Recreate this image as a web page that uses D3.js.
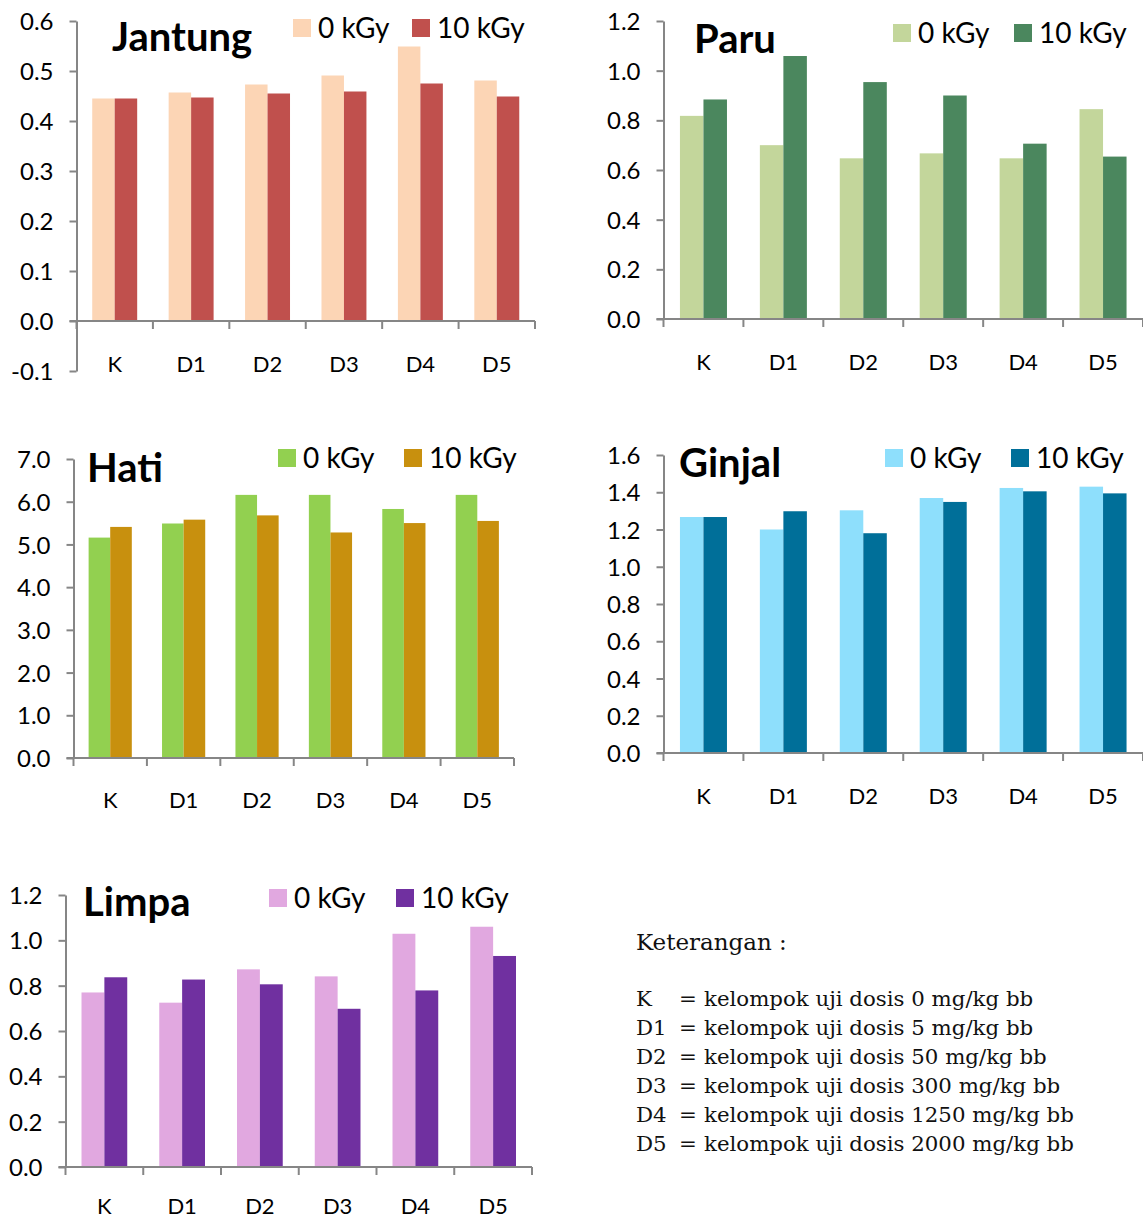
<!DOCTYPE html>
<html>
<head>
<meta charset="utf-8">
<script src="https://cdn.jsdelivr.net/npm/d3@7"></script>
<style>
  html, body { margin: 0; padding: 0; background: #fff; }
  svg { display: block; }
  .tick text { font-family: Lato, "Open Sans", sans-serif; }
</style>
</head>
<body>
<svg id="chart" width="1143" height="1219"></svg>
<script>
// Dose groups shared by all organ panels
const categories = ["K", "D1", "D2", "D3", "D4", "D5"];
const seriesNames = ["0 kGy", "10 kGy"];

// Organ index values per dose group, non-irradiated (0 kGy) vs irradiated (10 kGy)
const jantung0  = [0.445, 0.457, 0.473, 0.491, 0.549, 0.481];
const jantung10 = [0.445, 0.447, 0.455, 0.459, 0.475, 0.449];

const paru0  = [0.818, 0.700, 0.647, 0.667, 0.647, 0.845];
const paru10 = [0.884, 1.059, 0.954, 0.900, 0.706, 0.654];

const hati0  = [5.16, 5.49, 6.16, 6.16, 5.83, 6.16];
const hati10 = [5.41, 5.58, 5.68, 5.28, 5.50, 5.55];

const ginjal0  = [1.267, 1.200, 1.303, 1.369, 1.423, 1.430];
const ginjal10 = [1.267, 1.298, 1.180, 1.348, 1.405, 1.394];

const limpa0  = [0.770, 0.725, 0.872, 0.841, 1.029, 1.060];
const limpa10 = [0.837, 0.827, 0.806, 0.698, 0.779, 0.931];

// Y-axis tick values per panel
const jantungTicks = [-0.1, 0, 0.1, 0.2, 0.3, 0.4, 0.5, 0.6];
const paruTicks    = [0, 0.2, 0.4, 0.6, 0.8, 1.0, 1.2];
const hatiTicks    = [0, 1, 2, 3, 4, 5, 6, 7];
const ginjalTicks  = [0, 0.2, 0.4, 0.6, 0.8, 1.0, 1.2, 1.4, 1.6];
const limpaTicks   = [0, 0.2, 0.4, 0.6, 0.8, 1.0, 1.2];

// Key to the dose-group abbreviations
const keyTitle = "Keterangan :";
const keyLabels = ["K", "D1", "D2", "D3", "D4", "D5"];
const keyTexts = [
  "kelompok uji dosis 0 mg/kg bb",
  "kelompok uji dosis 5 mg/kg bb",
  "kelompok uji dosis 50 mg/kg bb",
  "kelompok uji dosis 300 mg/kg bb",
  "kelompok uji dosis 1250 mg/kg bb",
  "kelompok uji dosis 2000 mg/kg bb"
];

const svg = d3.select("#chart");
const AXIS = "#868686";
const SANS = "Lato, 'Open Sans', sans-serif";
// one decimal, plain hyphen for negatives
const fmt = d3.formatLocale({ decimal: ".", thousands: ",", grouping: [3], currency: ["", ""], minus: "-" }).format(".1f");

const panels = [
  { title: "Jantung", s0: jantung0, s1: jantung10, ticks: jantungTicks, domain: [-0.1, 0.6],
    colors: ["#FCD5B5", "#C0504D"],
    x0: 76.5, x1: 535, yTop: 21, yBot: 371,
    titleX: 112, titleY: 51, legY: 19, leg: [293, 412], catY: 372 },
  { title: "Paru", s0: paru0, s1: paru10, ticks: paruTicks, domain: [0, 1.2],
    colors: ["#C3D69B", "#4B875E"],
    x0: 663.5, x1: 1143, yTop: 21, yBot: 319,
    titleX: 694, titleY: 53, legY: 24, leg: [893, 1014], catY: 370 },
  { title: "Hati", s0: hati0, s1: hati10, ticks: hatiTicks, domain: [0, 7],
    colors: ["#92D050", "#C8900E"],
    x0: 73.5, x1: 514, yTop: 459, yBot: 758,
    titleX: 87, titleY: 482, legY: 449, leg: [278, 404], catY: 808 },
  { title: "Ginjal", s0: ginjal0, s1: ginjal10, ticks: ginjalTicks, domain: [0, 1.6],
    colors: ["#8EDFFC", "#006F99"],
    x0: 663.5, x1: 1143, yTop: 455, yBot: 753,
    titleX: 679, titleY: 477, legY: 449, leg: [885, 1011], catY: 804 },
  { title: "Limpa", s0: limpa0, s1: limpa10, ticks: limpaTicks, domain: [0, 1.2],
    colors: ["#E1A8E0", "#7030A0"],
    x0: 65.5, x1: 532, yTop: 895, yBot: 1167,
    titleX: 83, titleY: 916, legY: 889, leg: [269, 396], catY: 1214 }
];

panels.forEach(p => {
  const g = svg.append("g");
  const x = d3.scaleBand().domain(categories).range([p.x0, p.x1]).paddingInner(0).paddingOuter(0);
  const y = d3.scaleLinear().domain(p.domain).range([p.yBot, p.yTop]);
  const sub = d3.scaleBand().domain(seriesNames).range([0, x.bandwidth()]).paddingInner(0).paddingOuter(0.7);
  const y0 = y(0);

  // bars
  const rows = categories.map((c, i) => ({ c, vals: [p.s0[i], p.s1[i]] }));
  const grp = g.selectAll("g.cat").data(rows).join("g")
    .attr("transform", d => `translate(${x(d.c)},0)`);
  grp.selectAll("rect").data(d => d.vals.map((v, k) => ({ v, k }))).join("rect")
    .attr("x", d => sub(seriesNames[d.k]))
    .attr("width", sub.bandwidth())
    .attr("y", d => y(d.v))
    .attr("height", d => y0 - y(d.v))
    .attr("fill", d => p.colors[d.k]);

  // y axis
  const yAxis = g.append("g").attr("transform", `translate(${p.x0},0)`)
    .call(d3.axisLeft(y).tickValues(p.ticks).tickFormat(fmt).tickSize(7).tickSizeOuter(0).tickPadding(16));
  yAxis.select(".domain").attr("stroke", AXIS).attr("stroke-width", 2);
  yAxis.selectAll(".tick line").attr("stroke", AXIS).attr("stroke-width", 2);
  yAxis.selectAll(".tick text").attr("font-size", 24).attr("fill", "#000").attr("dy", "0.36em");

  // x axis line at zero with boundary ticks
  g.append("line").attr("x1", p.x0 - 7).attr("x2", p.x1).attr("y1", y0).attr("y2", y0)
    .attr("stroke", AXIS).attr("stroke-width", 2);
  const bounds = categories.map(c => x(c)).concat([p.x1]);
  g.selectAll("line.xt").data(bounds).join("line").attr("class", "xt")
    .attr("x1", d => d).attr("x2", d => d).attr("y1", y0).attr("y2", y0 + 8)
    .attr("stroke", AXIS).attr("stroke-width", 2);

  // category labels
  g.selectAll("text.cat").data(categories).join("text").attr("class", "cat")
    .attr("x", d => x(d) + x.bandwidth() / 2).attr("y", p.catY)
    .attr("text-anchor", "middle").attr("font-family", SANS).attr("font-size", 22)
    .text(d => d);

  // title
  g.append("text").attr("x", p.titleX).attr("y", p.titleY)
    .attr("font-family", SANS).attr("font-weight", 700).attr("font-size", 40)
    .text(p.title);

  // legend
  seriesNames.forEach((s, k) => {
    g.append("rect").attr("x", p.leg[k]).attr("y", p.legY).attr("width", 18).attr("height", 18)
      .attr("fill", p.colors[k]);
    g.append("text").attr("x", p.leg[k] + 25).attr("y", p.legY + 19)
      .attr("font-family", SANS).attr("font-size", 28).text(s);
  });
});

// Key text block
const key = svg.append("g").attr("font-family", "'DejaVu Serif', 'Liberation Serif', serif").attr("font-size", 21.3).attr("fill", "#111");
key.append("text").attr("x", 636).attr("y", 950).attr("font-size", 23).text(keyTitle);
keyLabels.forEach((lab, i) => {
  const yy = 1006 + i * 29;
  key.append("text").attr("x", 636).attr("y", yy).text(lab);
  key.append("text").attr("x", 679).attr("y", yy).text("=");
  key.append("text").attr("x", 704).attr("y", yy).text(keyTexts[i]);
});
</script>
</body>
</html>
